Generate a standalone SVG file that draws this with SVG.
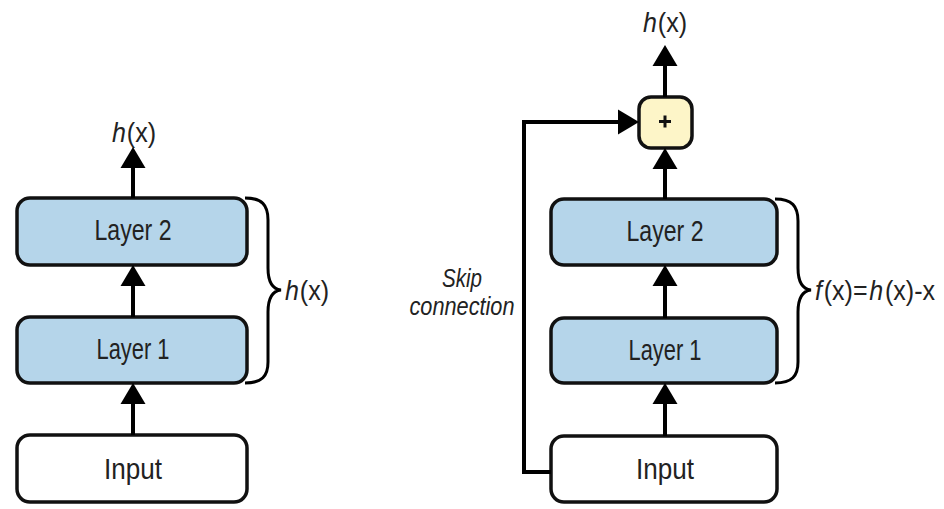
<svg xmlns="http://www.w3.org/2000/svg" width="944" height="509" viewBox="0 0 944 509">
  <style>
    .box { stroke: #111; stroke-width: 3.5; }
    .layer { fill: #b5d5ea; }
    .input { fill: #ffffff; }
    .sum { fill: #fdf5c8; }
    .lbl { font-family: "Liberation Sans", Arial, sans-serif; font-size: 30px; fill: #222; text-anchor: middle; }
    .note { font-family: "Liberation Sans", Arial, sans-serif; font-size: 26px; fill: #222; text-anchor: middle; font-style: italic; }
    .math { font-family: "Liberation Sans", Arial, sans-serif; font-size: 28px; fill: #222; }
    .it { font-style: italic; }
    .wire { fill: none; stroke: #000; stroke-width: 4; }
    .brace { fill: none; stroke: #000; stroke-width: 3; }
  </style>
  <defs>
    <marker id="head" markerUnits="userSpaceOnUse" markerWidth="22" markerHeight="26" refX="0" refY="12.5" orient="auto" overflow="visible">
      <path d="M0,0 L21,12.5 L0,25 Z" fill="#000"/>
    </marker>
  </defs>
  <rect width="944" height="509" fill="#ffffff"/>

  <!-- plain stack -->
  <g id="plain-input">
    <rect class="box input" x="17" y="435" width="230" height="67" rx="13"/>
    <text class="lbl" x="133" y="479" textLength="58" lengthAdjust="spacingAndGlyphs">Input</text>
  </g>
  <g id="plain-layer1">
    <rect class="box layer" x="17" y="317" width="230" height="66" rx="13"/>
    <text class="lbl" x="133" y="359" textLength="73" lengthAdjust="spacingAndGlyphs">Layer 1</text>
  </g>
  <g id="plain-layer2">
    <rect class="box layer" x="17" y="198" width="230" height="67" rx="13"/>
    <text class="lbl" x="133" y="240" textLength="77" lengthAdjust="spacingAndGlyphs">Layer 2</text>
  </g>
  <g id="plain-output">
    <text class="math" x="112" y="142" textLength="44" lengthAdjust="spacingAndGlyphs"><tspan class="it">h</tspan><tspan dx="1">(x)</tspan></text>
  </g>
  <g id="plain-brace">
    <path class="brace" d="M245,198 C262,198 268,205 268,220 L268,268 C268,282 272,289 281,290 C272,291 268,298 268,312 L268,362 C268,376 262,383 245,383"/>
    <text class="math" x="285" y="300" textLength="44" lengthAdjust="spacingAndGlyphs"><tspan class="it">h</tspan><tspan dx="1">(x)</tspan></text>
  </g>

  <!-- residual stack -->
  <g id="res-input">
    <rect class="box input" x="551" y="436" width="226" height="66" rx="13"/>
    <text class="lbl" x="665" y="479" textLength="58" lengthAdjust="spacingAndGlyphs">Input</text>
  </g>
  <g id="res-layer1">
    <rect class="box layer" x="551" y="318" width="226" height="65" rx="13"/>
    <text class="lbl" x="665" y="360" textLength="73" lengthAdjust="spacingAndGlyphs">Layer 1</text>
  </g>
  <g id="res-layer2">
    <rect class="box layer" x="551" y="199" width="226" height="66" rx="13"/>
    <text class="lbl" x="665" y="241" textLength="77" lengthAdjust="spacingAndGlyphs">Layer 2</text>
  </g>
  <g id="res-sum">
    <rect class="box sum" x="639" y="97" width="53" height="51" rx="12"/>
    <path d="M659,121.5 H671 M665,115.5 V127.5" stroke="#111" stroke-width="3" fill="none"/>
  </g>
  <g id="res-output">
    <text class="math" x="643" y="32" textLength="44" lengthAdjust="spacingAndGlyphs"><tspan class="it">h</tspan><tspan dx="1">(x)</tspan></text>
  </g>
  <g id="res-brace">
    <path class="brace" d="M775,199 C792,199 798,206 798,221 L798,268 C798,282 802,289 811,290 C802,291 798,298 798,312 L798,362 C798,376 792,383 775,383"/>
    <text class="math" x="815" y="300" textLength="120" lengthAdjust="spacingAndGlyphs"><tspan class="it">f</tspan><tspan dx="2">(x)=</tspan><tspan class="it" dx="2">h</tspan><tspan dx="2">(x)-x</tspan></text>
  </g>
  <g id="skip-label">
    <text class="note" x="462" y="287" textLength="40" lengthAdjust="spacingAndGlyphs">Skip</text>
    <text class="note" x="462" y="315" textLength="105" lengthAdjust="spacingAndGlyphs">connection</text>
  </g>

  <g id="connectors">
    <path class="wire" d="M133,435 V404" marker-end="url(#head)"/>
    <path class="wire" d="M133,317 V286" marker-end="url(#head)"/>
    <path class="wire" d="M133,198 V168" marker-end="url(#head)"/>
    <path class="wire" d="M665,436 V404" marker-end="url(#head)"/>
    <path class="wire" d="M665,318 V286" marker-end="url(#head)"/>
    <path class="wire" d="M665,199 V169" marker-end="url(#head)"/>
    <path class="wire" d="M665,97 V66" marker-end="url(#head)"/>
    <path class="wire" d="M551,472 H524 V122 H618" marker-end="url(#head)"/>
  </g>
</svg>
